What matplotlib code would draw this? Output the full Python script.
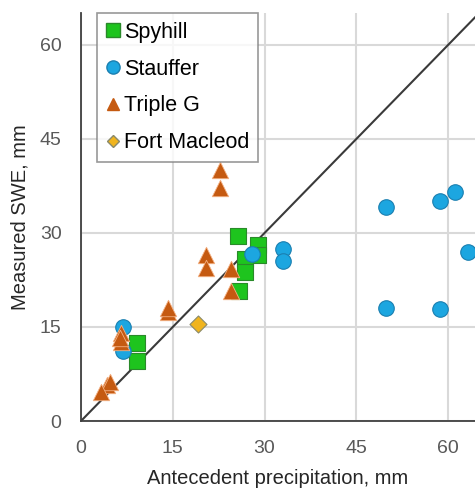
import matplotlib
matplotlib.use("Agg")
import matplotlib.pyplot as plt
from matplotlib.lines import Line2D

plt.rcParams['font.family'] = ['Liberation Sans', 'DejaVu Sans']

# Data (antecedent precipitation, measured SWE), mm
spyhill_x = [25.7, 29.0, 29.0, 26.8, 26.8, 25.9, 9.1, 9.1]
spyhill_y = [29.5, 28.1, 26.5, 25.9, 23.8, 20.7, 12.4, 9.5]

stauffer_x = [6.8, 6.8, 27.9, 33.0, 33.0, 49.9, 58.7, 61.1, 63.3, 49.9, 58.7]
stauffer_y = [15.0, 11.1, 26.6, 27.4, 25.5, 34.2, 35.1, 36.6, 27.0, 18.1, 17.8]

tripleg_x = [22.7, 22.7, 20.5, 20.5, 24.5, 24.5, 14.2, 14.3, 6.5, 6.5, 6.3, 4.2, 4.8, 3.2]
tripleg_y = [40.0, 37.2, 26.5, 24.4, 24.2, 20.7, 17.4, 18.0, 14.0, 12.6, 13.2, 5.7, 6.2, 4.7]

fort_x = [19.1]
fort_y = [15.5]

ticks = [0, 15, 30, 45, 60]
labels = ['Spyhill', 'Stauffer', 'Triple G', 'Fort Macleod']

fig = plt.figure(figsize=(4.75, 4.91), dpi=100)
ax = fig.add_axes([81/475, 1-421/491, 1-81/475, (421-13)/491])

ax.set_xlim(0, 64.4)
ax.set_ylim(0, 65.1)
ax.set_xticks(ticks)
ax.set_yticks(ticks)
ax.grid(True, color='#d9d9d9', linewidth=1.5)
ax.set_axisbelow(True)
for s in ['top', 'right']:
    ax.spines[s].set_visible(False)
for s in ['left', 'bottom']:
    ax.spines[s].set_color('#404040')
    ax.spines[s].set_linewidth(1.3)
ax.tick_params(length=0, labelsize=14, labelcolor='#595959', pad=14)

ax.plot([0, 70], [0, 70], color='#3a3a3a', linewidth=1.5, zorder=2)

ax.scatter(spyhill_x, spyhill_y, marker='s', s=125, color='#1ec41e', edgecolors='#2a8a2a', linewidths=0.8, zorder=3)
ax.scatter(stauffer_x, stauffer_y, marker='o', s=125, color='#1ca6e0', edgecolors='#1b7fb0', linewidths=0.8, zorder=4)
ax.scatter(tripleg_x, tripleg_y, marker='^', s=140, color='#c55a11', edgecolors='#f4b183', linewidths=0.6, zorder=5)
ax.scatter(fort_x, fort_y, marker='D', s=75, color='#f0b41e', edgecolors='#8a8a6a', linewidths=0.8, zorder=6)

ax.set_xlabel('Antecedent precipitation, mm', fontsize=14.5, color='#262626', labelpad=8)
ax.set_ylabel('Measured SWE, mm', fontsize=14.5, color='#262626', labelpad=7)

handles = [
    Line2D([], [], marker='s', linestyle='none', markersize=9.5, markerfacecolor='#1ec41e', markeredgecolor='#2a8a2a'),
    Line2D([], [], marker='o', linestyle='none', markersize=9.5, markerfacecolor='#1ca6e0', markeredgecolor='#1b7fb0'),
    Line2D([], [], marker='^', linestyle='none', markersize=8, markerfacecolor='#c55a11', markeredgecolor='#c55a11'),
    Line2D([], [], marker='D', linestyle='none', markersize=6.5, markerfacecolor='#f0b41e', markeredgecolor='#8a8a6a'),
]
leg = ax.legend(handles, labels, loc='upper left', bbox_to_anchor=(97/475, 1-13/491),
                bbox_transform=fig.transFigure, fontsize=15.5, frameon=True, fancybox=False,
                edgecolor='#7f7f7f', handlelength=0.7, handletextpad=0.15, labelspacing=0.74,
                borderpad=0.4, borderaxespad=0)
leg.get_frame().set_linewidth(1.2)

fig.savefig('out.png', dpi=100)
